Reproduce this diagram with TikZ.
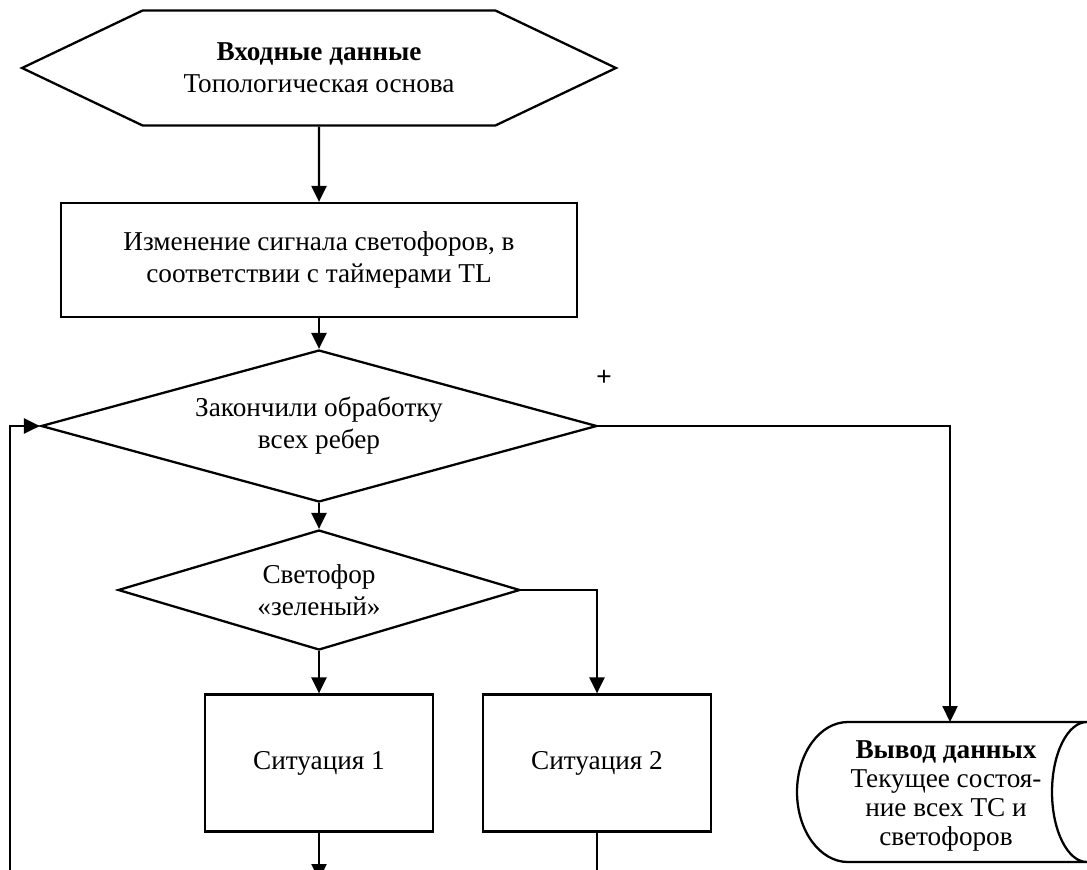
\documentclass[tikz,border=0pt]{standalone}
\usepackage{fontspec}
\setmainfont{Liberation Serif}
\newfontfamily\plusfont{Liberation Sans}
\usetikzlibrary{shapes.geometric,shapes.symbols,arrows.meta}

\begin{document}
\begin{tikzpicture}[x=0.02cm, y=-0.02cm, line width=1.3pt,
    txt/.style={align=center, font=\fontsize{15.5}{18.2}\selectfont},
    blk/.style={txt, draw, rectangle, inner sep=0pt},
    ask/.style={txt, draw, diamond, inner sep=0pt},
    io/.style={txt, draw, signal, signal to=west and east, signal pointer angle=51, inner sep=0pt},
    flow/.style={-{Triangle[length=0.32cm, width=0.3cm]}}]
  \useasboundingbox (0,0) rectangle (1087,869);
  \clip (0,0) rectangle (1087,869);
  % blocks
  \node[io, minimum width=11.88cm, minimum height=2.3cm] (inp) at (319,68) {\textbf{Входные данные}\\Топологическая основа};
  \node[blk, minimum width=10.32cm, minimum height=2.28cm] (chg) at (319,260) {Изменение сигнала светофоров, в\\соответствии с таймерами TL};
  \node[ask, shape aspect=3.66, minimum width=11.12cm, minimum height=3.04cm] (done) at (319,426) {Закончили обработку\\всех ребер};
  \node[ask, shape aspect=3.35, minimum width=8.04cm, minimum height=2.4cm] (green) at (319,590) {Светофор\\«зеленый»};
  \node[blk, minimum width=4.56cm, minimum height=2.74cm] (sit1) at (319,763) {Ситуация 1};
  \node[blk, minimum width=4.56cm, minimum height=2.74cm] (sit2) at (597,763) {Ситуация 2};
  \node[font=\plusfont\fontsize{15}{17}\selectfont] (plus) at (604,378) {+};
  % output (stored data)
  \draw (848,722) -- (1087,722) arc[start angle=270, end angle=90, x radius=35, y radius=70]
    -- (848,862) arc[start angle=90, end angle=270, x radius=51, y radius=70] -- cycle;
  \node[txt, font=\fontsize{15.5}{16.4}\selectfont] (outp) at (946,796) {\textbf{Вывод данных}\\Текущее состоя-\\ние всех ТС и\\светофоров};
  \coordinate (outtop) at (950,722);
  \coordinate (s1end) at (319,880);
  \coordinate (s2end) at (597,880);
  \coordinate (back) at (10,880);
  % connectors
  \draw[flow] (inp) -- (chg);
  \draw[flow] (chg) -- (done);
  \draw[flow] (done) -- (green);
  \draw[flow] (green) -- (sit1);
  \draw[flow] (green.east) -| (sit2.north);
  \draw[flow] (done.east) -| (outtop);
  \draw[flow] (sit1) -- (s1end);
  \draw (sit2) -- (s2end);
  \draw[flow] (back) |- (done.west);
\end{tikzpicture}
\end{document}
